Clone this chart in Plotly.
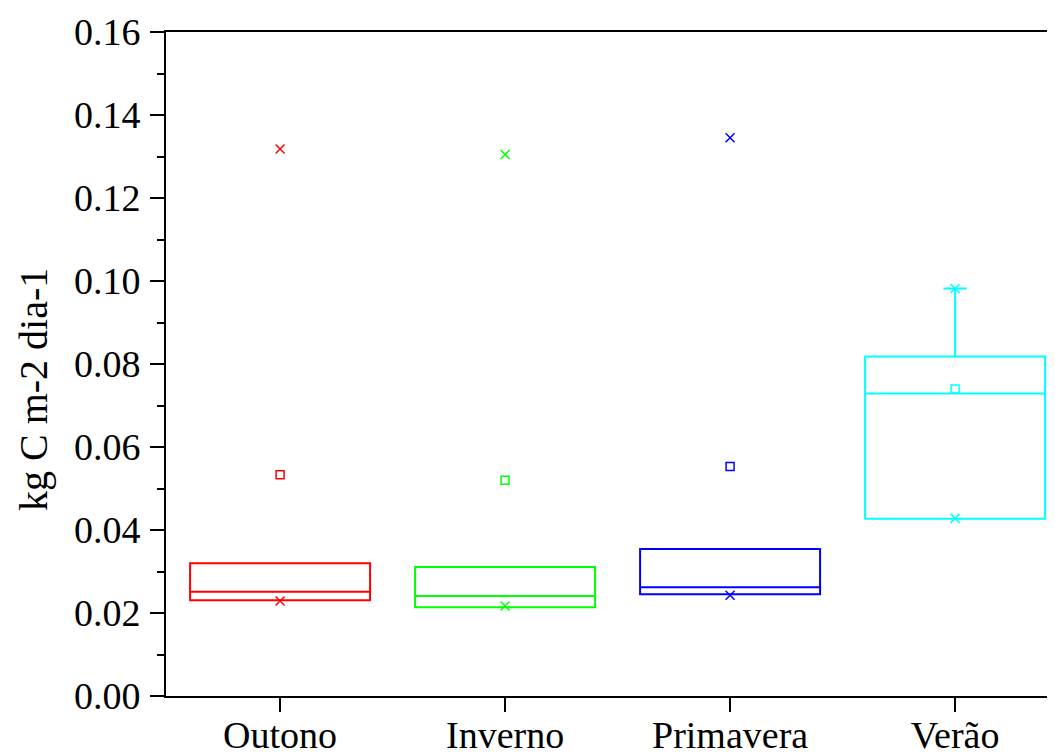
import plotly.graph_objects as go

categories = ["Outono", "Inverno", "Primavera", "Verão"]
colors = ["#FF0000", "#00FF00", "#0000FF", "#00FFFF"]

q1 = [0.0231, 0.0214, 0.0245, 0.0427]
median = [0.0251, 0.0241, 0.0262, 0.0729]
q3 = [0.0320, 0.0311, 0.0354, 0.0818]
lower_fence = [0.0231, 0.0214, 0.0245, 0.0427]
upper_fence = [0.0320, 0.0311, 0.0354, 0.0982]
means = [0.0533, 0.0520, 0.0553, 0.0740]
minimum = [0.0229, 0.0217, 0.0243, 0.0428]
maximum = [0.1318, 0.1305, 0.1345, 0.0982]

y_ticks = [0.00, 0.02, 0.04, 0.06, 0.08, 0.10, 0.12, 0.14, 0.16]
y_title = "kg C m-2 dia-1"

FONT = "Liberation Serif, Times New Roman, serif"

fig = go.Figure()
for i, cat in enumerate(categories):
    c = colors[i]
    fig.add_trace(go.Box(
        x=[cat], q1=[q1[i]], median=[median[i]], q3=[q3[i]],
        lowerfence=[lower_fence[i]], upperfence=[upper_fence[i]],
        width=0.8, whiskerwidth=0.13,
        line=dict(color=c, width=2), fillcolor="rgba(0,0,0,0)",
        boxpoints=False, showlegend=False, hoverinfo="skip",
    ))
    fig.add_trace(go.Scatter(
        x=[cat], y=[means[i]], mode="markers",
        marker=dict(symbol="square-open", size=8, color=c, line=dict(width=1.5)),
        showlegend=False,
    ))
    fig.add_trace(go.Scatter(
        x=[cat, cat], y=[minimum[i], maximum[i]], mode="markers",
        marker=dict(symbol="x-thin", size=9, color=c, line=dict(width=1.5, color=c)),
        showlegend=False,
    ))

# small edge dashes seen at the right border of the original figure
for yp in [0.8148, 0.6386, 0.4654, 0.2907]:
    fig.add_shape(type="line", xref="paper", yref="paper",
                  x0=0.993, x1=0.999, y0=yp, y1=yp,
                  line=dict(color="black", width=2))

fig.add_annotation(
    text=y_title, textangle=-90, showarrow=False,
    xref="paper", yref="paper", x=-0.1496, y=0.4608,
    xanchor="center", yanchor="middle",
    font=dict(family=FONT, size=40, color="black"),
)

fig.update_layout(
    width=1055, height=754,
    margin=dict(l=158, r=8, t=24, b=66, autoexpand=False),
    paper_bgcolor="white", plot_bgcolor="white",
    font=dict(family=FONT, size=36, color="black"),
    boxmode="overlay",
)
fig.update_xaxes(
    type="category", categoryorder="array", categoryarray=categories,
    range=[-0.507, 3.444], automargin=False,
    showline=True, linecolor="black", linewidth=2, mirror=True,
    ticks="outside", ticklen=14, tickwidth=2, tickcolor="black",
    ticklabelstandoff=-10,
    showgrid=False, zeroline=False,
    tickfont=dict(family=FONT, size=38, color="black"),
)
fig.update_yaxes(
    range=[0, 0.16], automargin=False,
    tickvals=y_ticks, tickformat=".2f",
    showline=True, linecolor="black", linewidth=2,
    ticks="outside", ticklen=14, tickwidth=2, tickcolor="black",
    ticklabelstandoff=2,
    minor=dict(ticks="outside", ticklen=7, tickwidth=2, tickcolor="black", dtick=0.01, showgrid=False),
    showgrid=False, zeroline=False,
    tickfont=dict(family=FONT, size=38, color="black"),
)

fig.write_html("out.html")
